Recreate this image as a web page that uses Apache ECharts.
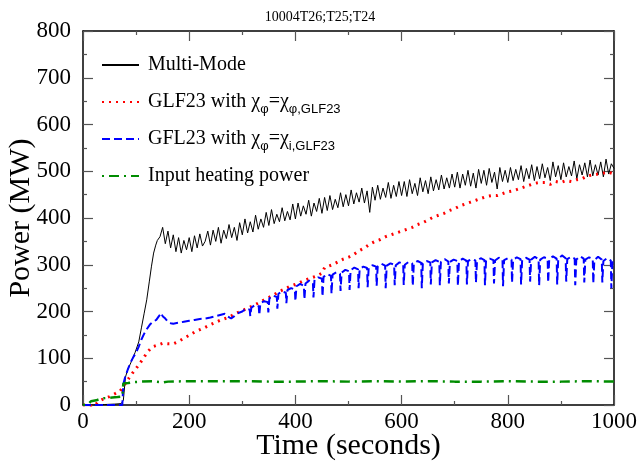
<!DOCTYPE html>
<html>
<head>
<meta charset="utf-8">
<script src="https://cdn.jsdelivr.net/npm/echarts/dist/echarts.min.js"></script>
<style>
  html, body { margin: 0; padding: 0; background: #fff; }
  #chart { width: 640px; height: 463px; }
</style>
</head>
<body>
<div id="chart"></div>
<script>
// Multi-Mode: ramp part (irregular times), then noisy part sampled every 5 s from 150 s
var mmRampTime  = [0, 20, 40, 60, 72, 76, 80, 85, 90, 98, 105, 110, 115, 120, 125, 129, 133, 137, 140, 145];
var mmRampPower = [0, 0, 1, 2, 3, 10, 60, 78, 90, 112, 135, 165, 195, 225, 265, 297, 325, 342, 352, 360];
var mmNoisyStart = 150;
var mmNoisyStep = 5;
var mmNoisyPower = [
  380, 345, 372, 336, 364, 328, 358, 325, 352, 332,
  358, 328, 362, 336, 366, 340, 350, 372, 342, 374,
  350, 380, 346, 374, 356, 386, 358, 380, 352, 390,
  364, 398, 368, 392, 370, 406, 376, 398, 380, 412,
  384, 418, 388, 408, 392, 422, 394, 414, 396, 430,
  398, 432, 404, 426, 408, 438, 404, 432, 414, 442,
  410, 444, 416, 448, 418, 440, 422, 454, 424, 450,
  426, 460, 430, 454, 434, 464, 432, 458, 412, 466,
  438, 470, 440, 464, 444, 476, 442, 470, 446, 478,
  448, 478, 446, 482, 452, 474, 448, 486, 456, 480,
  452, 488, 458, 482, 460, 492, 462, 486, 464, 494,
  466, 498, 464, 494, 470, 502, 468, 496, 464, 504,
  474, 502, 470, 506, 476, 498, 462, 508, 478, 502,
  476, 508, 480, 504, 482, 512, 478, 506, 484, 514,
  480, 510, 484, 516, 486, 508, 480, 520, 488, 512,
  482, 518, 488, 510, 490, 522, 484, 514, 492, 518,
  488, 524, 490, 514, 492, 520, 488, 526, 494, 516,
  506
];

// GLF23 with chi_phi = chi_phi,GLF23
var glfTime = [0, 10, 20, 30, 40, 50, 60, 70, 75, 82, 90, 95, 100, 107, 115, 120, 126, 132, 140, 150,
  160, 170, 180, 190, 200, 210, 220, 230, 240, 250, 260, 270, 280, 290, 300, 310, 320, 330, 340, 350,
  360, 370, 380, 390, 400, 410, 420, 430, 440, 450, 455, 460, 470, 480, 490, 500, 510, 520, 530, 540,
  550, 560, 570, 580, 590, 600, 610, 620, 630, 640, 650, 660, 670, 680, 690, 700, 710, 720, 730, 740,
  750, 760, 770, 780, 790, 800, 810, 820, 830, 840, 850, 860, 870, 880, 890, 900, 910, 920, 930, 940,
  950, 960, 970, 980, 990, 1000];
var glfPower = [0, -2, -3, 8, 14, 18, 24, 30, 38, 50, 63, 71, 78, 89, 102, 111, 119, 125, 128, 132,
  131, 131, 136, 143, 149, 156, 161, 166, 172, 177, 182, 186, 191, 197, 202, 207, 212, 218, 224, 230,
  236, 243, 248, 254, 258, 263, 268, 272, 276, 282, 294, 296, 300, 306, 312, 316, 322, 330, 336, 344,
  350, 354, 360, 364, 368, 372, 376, 380, 386, 390, 396, 402, 406, 410, 416, 420, 426, 430, 434, 438,
  442, 446, 448, 448, 452, 456, 458, 462, 466, 470, 474, 476, 476, 472, 478, 476, 480, 478, 482, 484,
  490, 492, 494, 496, 498, 494];

// GFL23 with chi_phi = chi_i,GLF23 (sawtooth dips after ~300 s)
var gflTime = [0, 20, 40, 60, 74, 76, 80, 85, 90, 95, 100, 105, 110, 115, 120, 126, 132, 138, 143, 147,
  150, 155, 160, 165, 170, 180, 190, 200, 210, 220, 230, 240, 250, 260, 267, 272, 279, 285, 290, 295,
  300, 307, 314, 315, 317, 324, 331, 332, 334, 341, 348, 349, 351, 358, 365, 366,
  368, 375, 382, 383, 385, 392, 399, 400, 402, 409, 416, 417, 419, 426, 433, 434,
  436, 443, 450, 451, 453, 460, 467, 468, 470, 477, 484, 485, 487, 494, 501, 502,
  504, 511, 518, 519, 521, 528, 535, 536, 538, 545, 552, 553, 555, 562, 569, 570,
  572, 579, 586, 587, 589, 596, 603, 604, 606, 613, 620, 621, 623, 630, 637, 638,
  640, 647, 654, 655, 657, 664, 671, 672, 674, 681, 688, 689, 691, 698, 705, 706,
  708, 715, 722, 723, 725, 732, 739, 740, 742, 749, 756, 757, 759, 766, 773, 774,
  776, 783, 790, 791, 793, 800, 807, 808, 810, 817, 824, 825, 827, 834, 841, 842,
  844, 851, 858, 859, 861, 868, 875, 876, 878, 885, 892, 893, 895, 902, 909, 910,
  912, 919, 926, 927, 929, 936, 943, 944, 946, 953, 960, 961, 963, 970, 977, 978,
  980, 987, 994, 995, 997, 1000];
var gflPower = [0, 0, 0, 0, 0, 45, 62, 78, 92, 103, 112, 125, 140, 152, 162, 172, 178, 182, 190, 197,
  190, 185, 178, 175, 174, 176, 178, 180, 182, 184, 185, 187, 190, 193, 195, 190, 185, 190, 195, 198,
  200, 206, 204, 190, 208, 214, 211, 192, 218, 222, 220, 198, 228, 234, 231, 206,
  238, 243, 240, 218, 246, 250, 247, 222, 254, 259, 255, 226, 260, 266, 262, 230,
  268, 273, 270, 232, 274, 280, 276, 238, 279, 284, 281, 244, 283, 289, 286, 246,
  288, 294, 290, 250, 291, 296, 293, 252, 293, 299, 296, 255, 296, 302, 298, 250,
  298, 303, 300, 256, 299, 305, 302, 257, 300, 306, 303, 255, 302, 308, 304, 250,
  303, 308, 305, 258, 305, 310, 306, 256, 306, 312, 307, 260, 306, 311, 308, 255,
  307, 313, 309, 258, 308, 312, 309, 262, 308, 314, 310, 256, 309, 313, 310, 260,
  309, 315, 311, 254, 310, 314, 311, 262, 310, 316, 312, 258, 310, 315, 311, 264,
  311, 317, 312, 256, 311, 316, 313, 262, 312, 318, 313, 258, 312, 320, 314, 264,
  312, 317, 313, 256, 311, 318, 313, 262, 311, 316, 312, 260, 310, 317, 311, 262,
  308, 314, 309, 250, 306, 304];

// Input heating power
var heatTime  = [0, 10, 15, 25, 35, 45, 55, 65, 74, 76, 85, 95, 110, 130, 150, 160, 200, 250, 300, 350,
  400, 450, 500, 550, 600, 650, 700, 750, 800, 850, 900, 950, 1000];
var heatPower = [0, 2, 8, 10, 14, 15, 16, 17, 18, 46, 47, 49, 50, 51, 48, 50, 51, 51, 51, 50,
  50, 51, 50, 51, 50, 51, 50, 50, 51, 50, 50, 51, 50];

var xTicks = { min: 0, max: 1000, step: 200 };
var yTicks = { min: 0, max: 800, step: 100 };

var seriesNames = [
  'Multi-Mode',
  'GLF23 with χφ=χφ,GLF23',
  'GFL23 with χφ=χi,GLF23',
  'Input heating power'
];
var legendRich = {};
legendRich[seriesNames[0]] = '{t|Multi-Mode}';
legendRich[seriesNames[1]] = '{t|GLF23 with χ}{s|φ}{t|=χ}{s|φ,GLF23}';
legendRich[seriesNames[2]] = '{t|GFL23 with χ}{s|φ}{t|=χ}{s|i,GLF23}';
legendRich[seriesNames[3]] = '{t|Input heating power}';

function zip(ts, vs) {
    var out = [];
    for (var i = 0; i < ts.length; i++) out.push([ts[i], vs[i]]);
    return out;
}

var mmData = zip(mmRampTime, mmRampPower);
mmNoisyPower.forEach(function (v, i) {
    mmData.push([mmNoisyStart + i * mmNoisyStep, v]);
});

var serif = 'Liberation Serif';

function xAxisCfg(pos, showLabel) {
    return {
        type: 'value', position: pos, min: xTicks.min, max: xTicks.max, interval: xTicks.step,
        axisLine: { show: true, onZero: false, lineStyle: { color: '#000', width: 1.5 } },
        axisTick: { show: true, inside: true, length: 10, lineStyle: { color: '#555', width: 1.2 } },
        minorTick: { show: true, splitNumber: 2, length: 4, lineStyle: { color: '#555', width: 1.2 } },
        splitLine: { show: false },
        axisLabel: { show: showLabel, fontFamily: serif, fontSize: 23, color: '#000', margin: 5,
            formatter: function (v) { return String(v); } },
        name: showLabel ? 'Time (seconds)' : '',
        nameLocation: 'middle', nameGap: 26, nameMoveOverlap: false,
        nameTextStyle: { fontFamily: serif, fontSize: 30, color: '#000' }
    };
}
function yAxisCfg(pos, showLabel) {
    return {
        type: 'value', position: pos, min: yTicks.min, max: yTicks.max, interval: yTicks.step,
        axisLine: { show: true, onZero: false, lineStyle: { color: '#000', width: 1.5 } },
        axisTick: { show: true, inside: true, length: 10, lineStyle: { color: '#555', width: 1.2 } },
        minorTick: { show: true, splitNumber: 2, length: 4, lineStyle: { color: '#555', width: 1.2 } },
        splitLine: { show: false },
        axisLabel: { show: showLabel, fontFamily: serif, fontSize: 23, color: '#000', margin: 12,
            formatter: function (v) { return String(v); } },
        name: showLabel ? 'Power (MW)' : '',
        nameLocation: 'middle', nameGap: 47, nameMoveOverlap: false,
        nameTextStyle: { fontFamily: serif, fontSize: 30, color: '#000' }
    };
}

var chart = echarts.init(document.getElementById('chart'));
chart.setOption({
    animation: false,
    backgroundColor: '#fff',
    title: {
        text: '10004T26;T25;T24', left: 'center', top: 5,
        textStyle: { fontFamily: serif, fontSize: 14, fontWeight: 'normal', color: '#000' }
    },
    grid: { left: 83, right: 26, top: 31, bottom: 58, outerBoundsMode: 'none', containLabel: false },
    legend: {
        orient: 'vertical', left: 96, top: 46, itemGap: 9, itemWidth: 37, itemHeight: 14,
        data: seriesNames,
        itemStyle: { opacity: 0 },
        formatter: function (name) { return legendRich[name]; },
        textStyle: {
            padding: [0, 0, 0, 4],
            lineHeight: 28,
            rich: {
                t: { fontFamily: serif, fontSize: 20, color: '#000', lineHeight: 28 },
                s: { fontFamily: 'Liberation Sans', fontSize: 13, color: '#000', lineHeight: 12, verticalAlign: 'bottom' }
            }
        }
    },
    xAxis: [xAxisCfg('bottom', true), xAxisCfg('top', false)],
    yAxis: [yAxisCfg('left', true), yAxisCfg('right', false)],
    series: [
        {
            name: seriesNames[0], type: 'line', data: mmData, symbol: 'none',
            lineStyle: { color: '#000', width: 1 }, itemStyle: { color: '#000' }
        },
        {
            name: seriesNames[1], type: 'line', data: zip(glfTime, glfPower), symbol: 'none',
            lineStyle: { color: '#ff0000', width: 3, type: [2, 5] }, itemStyle: { color: '#ff0000' }
        },
        {
            name: seriesNames[2], type: 'line', data: zip(gflTime, gflPower), symbol: 'none',
            lineStyle: { color: '#0000ff', width: 2, type: [8, 4] }, itemStyle: { color: '#0000ff' }
        },
        {
            name: seriesNames[3], type: 'line', data: zip(heatTime, heatPower), symbol: 'none',
            lineStyle: { color: '#008c00', width: 2.5, type: [2, 5, 10, 5] }, itemStyle: { color: '#008c00' }
        }
    ]
});
</script>
</body>
</html>
